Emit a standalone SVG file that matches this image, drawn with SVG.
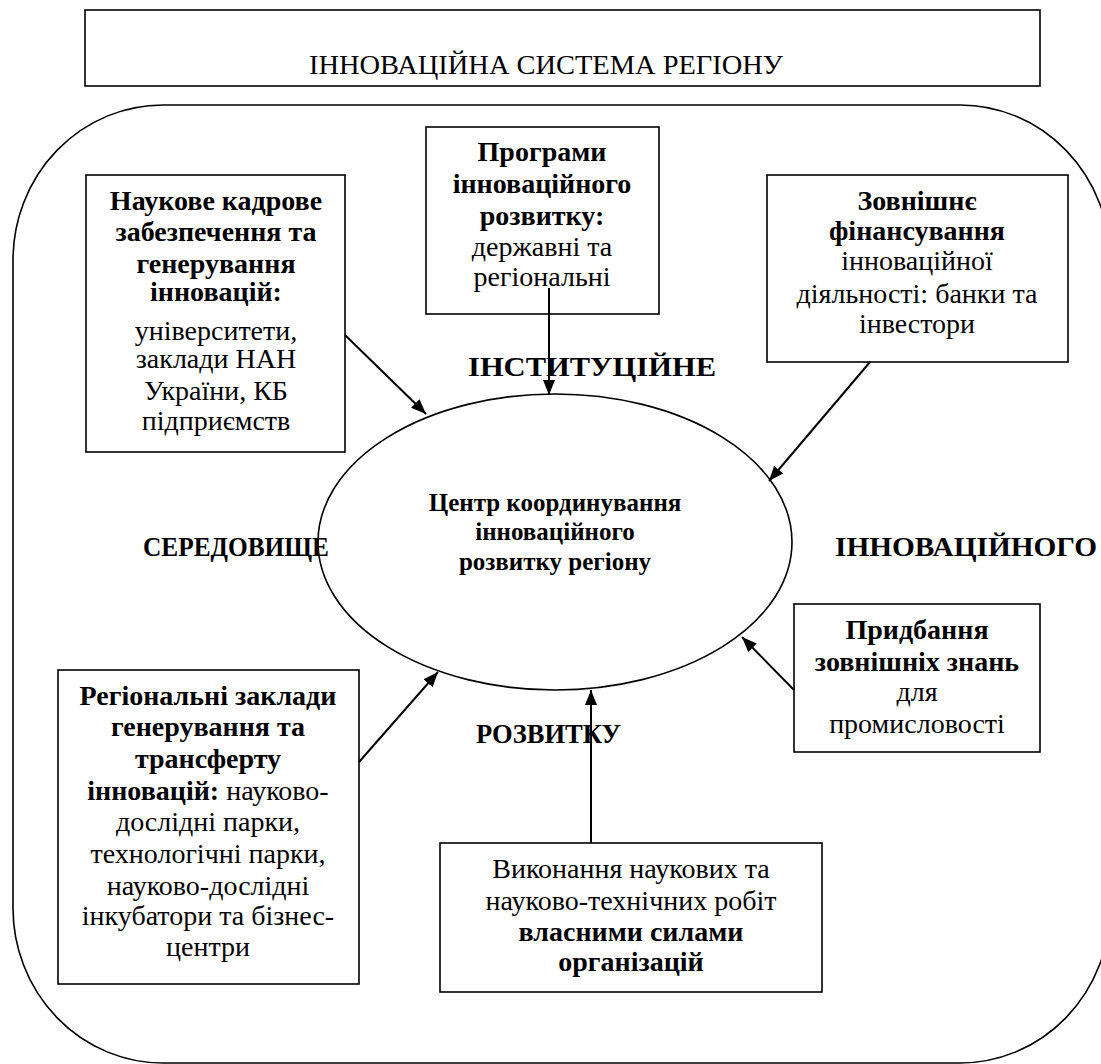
<svg xmlns="http://www.w3.org/2000/svg" width="1101" height="1064" viewBox="0 0 1101 1064">
<style>
.box{fill:#fff;stroke:#000;stroke-width:1.6}
.frame{fill:none;stroke:#000;stroke-width:1.6}
.t{font-family:"Liberation Serif","Times New Roman",serif;font-size:28px;fill:#000;text-anchor:middle}
.b{font-weight:bold}
.c{font-size:25px}
.lbl{font-family:"Liberation Serif","Times New Roman",serif;font-size:28px;font-weight:bold;fill:#000}
.ln{stroke:#000;stroke-width:2;fill:none}
</style>
<defs>
<marker id="ah" markerWidth="15" markerHeight="12" refX="15" refY="6" orient="auto" markerUnits="userSpaceOnUse">
<path d="M0,0 L15,6 L0,12 Z" fill="#000"/>
</marker>
</defs>
<g id="title">
<rect class="box" x="85" y="10" width="955" height="76"/>
<text class="t" x="546" y="74" textLength="474" lengthAdjust="spacingAndGlyphs">ІННОВАЦІЙНА СИСТЕМА РЕГІОНУ</text>
</g>
<g id="environment">
<rect class="frame" x="13" y="105" width="1097" height="958" rx="150" ry="155"/>
</g>
<g id="center">
<ellipse class="box" cx="555" cy="542" rx="237" ry="148"/>
<text class="t b c" x="555" y="511">Центр координування</text>
<text class="t b c" x="555" y="540">інноваційного</text>
<text class="t b c" x="555" y="570">розвитку регіону</text>
</g>
<g id="environment-labels">
<text class="lbl" x="143" y="556" textLength="186" lengthAdjust="spacingAndGlyphs">СЕРЕДОВИЩЕ</text>
<text class="lbl" x="835" y="556" textLength="262" lengthAdjust="spacingAndGlyphs">ІННОВАЦІЙНОГО</text>
<text class="lbl" x="468" y="376" textLength="248" lengthAdjust="spacingAndGlyphs">ІНСТИТУЦІЙНЕ</text>
<text class="lbl" x="476" y="743" textLength="145" lengthAdjust="spacingAndGlyphs">РОЗВИТКУ</text>
</g>
<g id="science">
<rect class="box" x="86" y="175" width="259" height="277"/>
<text class="t b" x="216" y="210">Наукове кадрове</text>
<text class="t b" x="216" y="241">забезпечення та</text>
<text class="t b" x="216" y="273">генерування</text>
<text class="t b" x="216" y="301">інновацій:</text>
<text class="t" x="216" y="340">університети,</text>
<text class="t" x="216" y="368">заклади НАН</text>
<text class="t" x="216" y="400">України, КБ</text>
<text class="t" x="216" y="430">підприємств</text>
</g>
<g id="programs">
<rect class="box" x="426" y="127" width="233" height="187"/>
<text class="t b" x="542" y="161">Програми</text>
<text class="t b" x="542" y="193">інноваційного</text>
<text class="t b" x="542" y="225">розвитку:</text>
<text class="t" x="542" y="256">державні та</text>
<text class="t" x="542" y="286">регіональні</text>
</g>
<g id="finance">
<rect class="box" x="767" y="175" width="301" height="187"/>
<text class="t b" x="917" y="210">Зовнішнє</text>
<text class="t b" x="917" y="240">фінансування</text>
<text class="t" x="917" y="270">інноваційної</text>
<text class="t" x="917" y="303">діяльності: банки та</text>
<text class="t" x="917" y="333">інвестори</text>
</g>
<g id="knowledge">
<rect class="box" x="794" y="604" width="246" height="148"/>
<text class="t b" x="917" y="639">Придбання</text>
<text class="t b" x="917" y="671">зовнішніх знань</text>
<text class="t" x="917" y="701">для</text>
<text class="t" x="917" y="733">промисловості</text>
</g>
<g id="own">
<rect class="box" x="440" y="843" width="382" height="149"/>
<text class="t" x="631" y="878">Виконання наукових та</text>
<text class="t" x="631" y="910">науково-технічних робіт</text>
<text class="t b" x="631" y="941">власними силами</text>
<text class="t b" x="631" y="971">організацій</text>
</g>
<g id="regional">
<rect class="box" x="58" y="670" width="301" height="314"/>
<text class="t b" x="208" y="705">Регіональні заклади</text>
<text class="t b" x="208" y="736">генерування та</text>
<text class="t b" x="208" y="768">трансферту</text>
<text class="t" x="208" y="800"><tspan class="b">інновацій:</tspan> науково-</text>
<text class="t" x="208" y="831">дослідні парки,</text>
<text class="t" x="208" y="863">технологічні парки,</text>
<text class="t" x="208" y="895">науково-дослідні</text>
<text class="t" x="208" y="925">інкубатори та бізнес-</text>
<text class="t" x="208" y="956">центри</text>
</g>
<g id="connectors">
<line class="ln" x1="345" y1="335" x2="426" y2="414" marker-end="url(#ah)"/>
<line class="ln" x1="549" y1="288" x2="549" y2="395" marker-end="url(#ah)"/>
<line class="ln" x1="870" y1="362" x2="769" y2="481" marker-end="url(#ah)"/>
<line class="ln" x1="794" y1="690" x2="742" y2="637" marker-end="url(#ah)"/>
<line class="ln" x1="591" y1="843" x2="591" y2="690" marker-end="url(#ah)"/>
<line class="ln" x1="359" y1="762" x2="438" y2="672" marker-end="url(#ah)"/>
</g>
</svg>
